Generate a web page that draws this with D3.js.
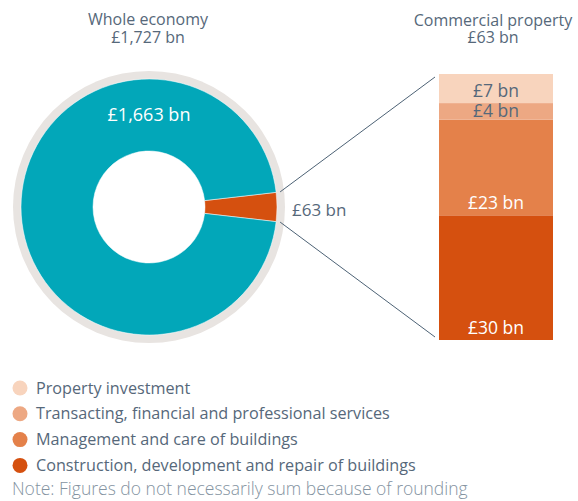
<!DOCTYPE html>
<html><head><meta charset="utf-8">
<script src="https://cdn.jsdelivr.net/npm/d3@7"></script>
<style>
body{margin:0;background:#fff;}
svg text{font-family:"Open Sans",sans-serif;}
</style></head>
<body><svg id="c" width="578" height="501"></svg>
<script>
const donutLabels = ["Commercial property", "Rest of economy"];
const donutValues = [63, 1663];
const donutText = ["£63 bn", "£1,663 bn"];
const barCategories = ["Construction, development and repair of buildings", "Management and care of buildings", "Transacting, financial and professional services", "Property investment"];
const barValues = [30, 23, 4, 7];
const barText = ["£30 bn", "£23 bn", "£4 bn", "£7 bn"];
const legendOrder = ["Property investment", "Transacting, financial and professional services", "Management and care of buildings", "Construction, development and repair of buildings"];
const colors = {"Property investment":"#f8d4bd","Transacting, financial and professional services":"#eda883","Management and care of buildings":"#e4814a","Construction, development and repair of buildings":"#d5500f"};

const svg = d3.select("#c");
const textCol = "#56687a";
const cx = 149, cy = 207, rRing = 136, rOuter = 128, rInner = 56;

// titles
const t1 = svg.append("text").attr("text-anchor","middle").attr("fill",textCol).style("font-size","16px");
t1.append("tspan").attr("x",148).attr("y",25).text("Whole economy");
t1.append("tspan").attr("x",148).attr("y",43).text("£1,727 bn");
const t2 = svg.append("text").attr("text-anchor","middle").attr("fill",textCol).style("font-size","16px");
t2.append("tspan").attr("x",493).attr("y",26).text("Commercial property");
t2.append("tspan").attr("x",493).attr("y",43).text("£63 bn");

// donut
const total = d3.sum(donutValues);
const half = Math.PI * donutValues[0] / total;
const pie = d3.pie().sort(null).startAngle(Math.PI/2 - half).endAngle(Math.PI/2 - half + 2*Math.PI);
const arcs = pie(donutValues);
const arc = d3.arc().innerRadius(rInner).outerRadius(rOuter);
const g = svg.append("g").attr("transform", `translate(${cx},${cy})`);
g.append("circle").attr("r", rRing).attr("fill", "#e8e4e1");
g.append("circle").attr("r", rOuter).attr("fill", "#fff");
g.selectAll("path").data(arcs).join("path").attr("d", arc)
  .attr("fill", (d,i) => i === 0 ? "#d5500f" : "#02a7b9")
  .attr("stroke","#fff").attr("stroke-width",0.5);
g.append("text").attr("x",0).attr("y",-(rInner+rOuter)/2).attr("dy","0.35em")
  .attr("text-anchor","middle").attr("fill","#fff").style("font-size","18px").text(donutText[1]);

// bar
const bx0 = 439, bx1 = 553;
const y = d3.scaleLinear().domain([0, d3.sum(barValues)]).range([340, 74]);
let acc = 0;
const stack = barValues.map((v,i) => { const s = {v, i, y0: acc, y1: acc + v}; acc += v; return s; });
svg.selectAll("rect.seg").data(stack).join("rect").attr("class","seg")
  .attr("x", bx0).attr("width", bx1 - bx0)
  .attr("y", d => y(d.y1)).attr("height", d => y(d.y0) - y(d.y1))
  .attr("fill", d => colors[barCategories[d.i]]);
svg.selectAll("text.seg").data(stack).join("text").attr("class","seg")
  .attr("x", (bx0+bx1)/2).attr("text-anchor","middle")
  .attr("y", d => { const h = y(d.y0) - y(d.y1); return h > 22 ? y(d.y0) - 6.5 : (y(d.y0)+y(d.y1))/2 + 6; })
  .attr("fill", d => d.i >= 2 ? textCol : "#fff").style("font-size","17.5px")
  .text(d => barText[d.i]);

// connector lines
const rl = 132;
const a0 = arcs[0].startAngle, a1 = arcs[0].endAngle;
const p0 = [cx + rl*Math.sin(a0), cy - rl*Math.cos(a0)];
const p1 = [cx + rl*Math.sin(a1), cy - rl*Math.cos(a1)];
svg.append("line").attr("x1",p0[0]).attr("y1",p0[1]).attr("x2",435).attr("y2",y(d3.sum(barValues))+3)
  .attr("stroke","#4d6275").attr("stroke-width",1);
svg.append("line").attr("x1",p1[0]).attr("y1",p1[1]).attr("x2",435).attr("y2",y(0)-3)
  .attr("stroke","#4d6275").attr("stroke-width",1);
svg.append("text").attr("x",292).attr("y",216).attr("fill",textCol).style("font-size","17px").text(donutText[0]);

// legend
const lg = svg.append("g");
legendOrder.forEach((name, i) => {
  const yy = 388 + i*25.8;
  lg.append("circle").attr("cx",20).attr("cy",yy).attr("r",7.5).attr("fill",colors[name]);
  lg.append("text").attr("x",36).attr("y",yy+5.5).attr("fill",textCol).style("font-size","16.2px").text(name);
});
svg.append("text").attr("x",12).attr("y",495).attr("fill","#8493a1").style("font-size","17.5px").style("font-weight",300)
  .text("Note: Figures do not necessarily sum because of rounding");
</script></body></html>
